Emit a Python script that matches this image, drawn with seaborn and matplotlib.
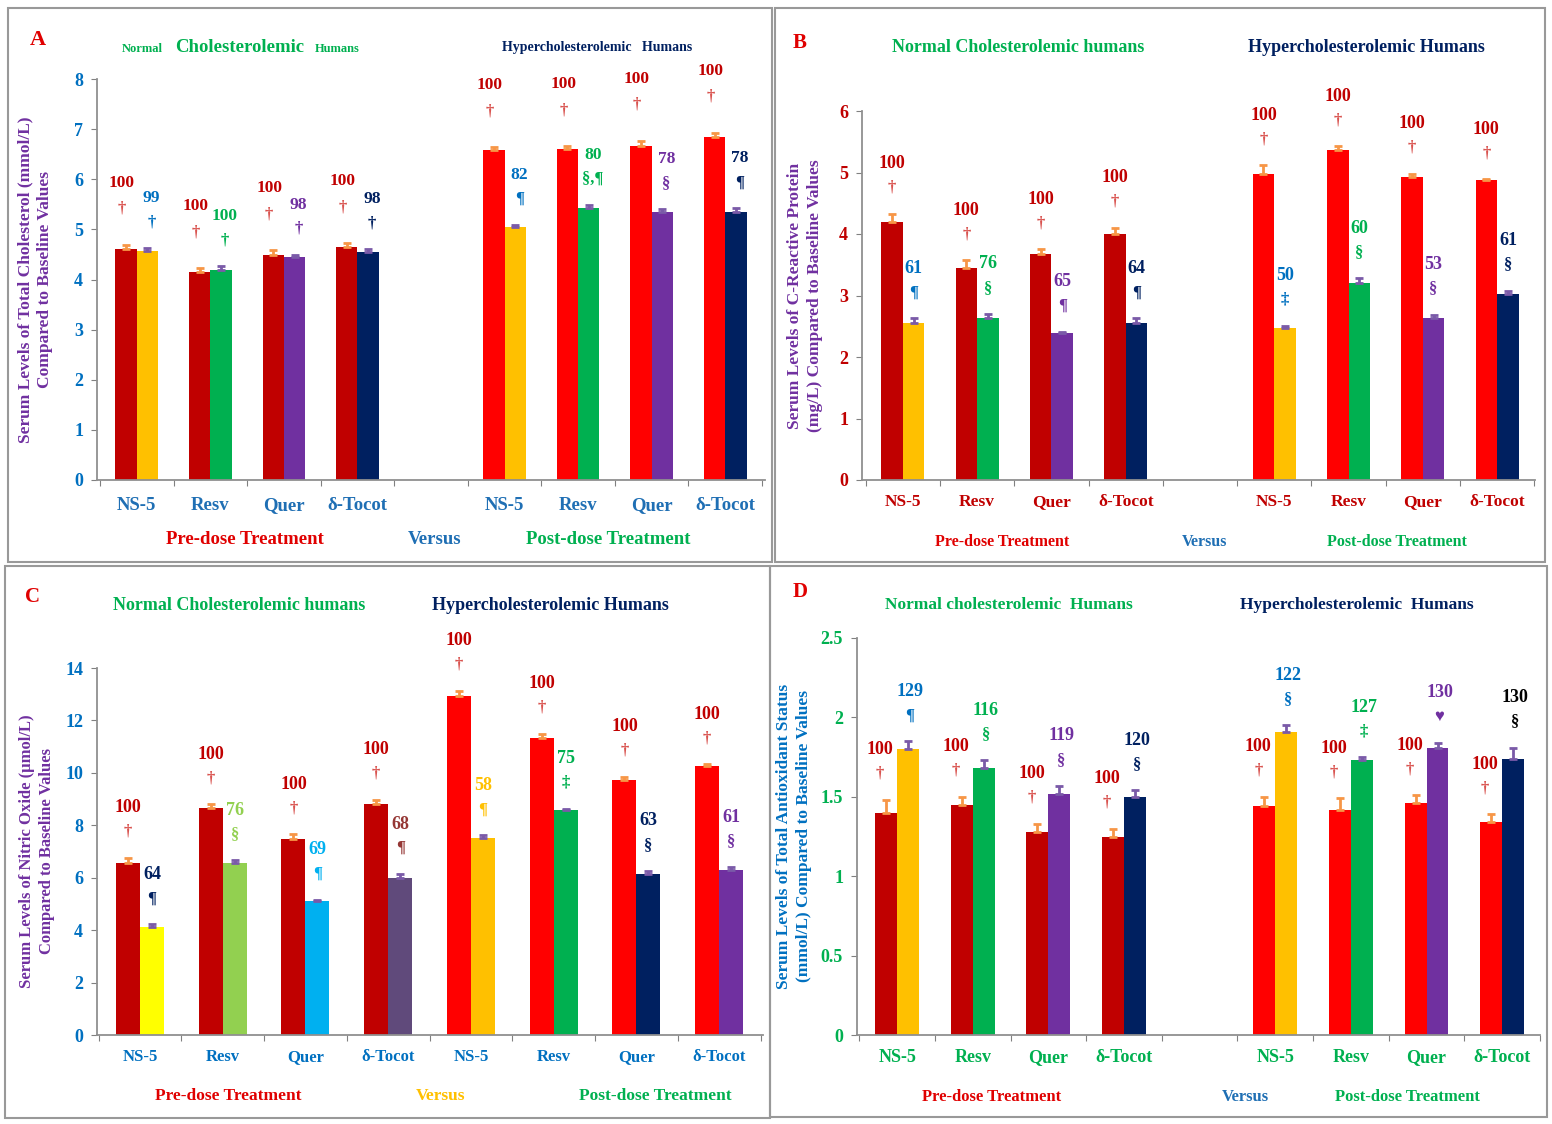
import numpy as np
import pandas as pd
import matplotlib.pyplot as plt
from matplotlib.patches import Rectangle
import seaborn as sns

W, H = 1552, 1124

drugs = ['NS-5', 'Resv', 'Quer', 'δ-Tocot']

# ---- panel A : total cholesterol (mmol/L)
a_base = [4.61, 4.15, 4.49, 4.65, 6.59, 6.60, 6.67, 6.85]
a_trt = [4.57, 4.19, 4.45, 4.55, 5.05, 5.43, 5.35, 5.35]
a_err_base = [0.08, 0.07, 0.09, 0.07, 0.05, 0.06, 0.10, 0.08]
a_err_trt = [0.05, 0.07, 0.04, 0.05, 0.04, 0.06, 0.05, 0.07]
a_pct = ['99', '100', '98', '98', '82', '80', '78', '78']
a_sym = ['†', '†', '†', '†', '¶', '§,¶', '§', '¶']

# ---- panel B : C-reactive protein (mg/L)
b_base = [4.20, 3.44, 3.67, 4.00, 4.97, 5.37, 4.93, 4.87]
b_trt = [2.55, 2.63, 2.39, 2.56, 2.47, 3.20, 2.63, 3.02]
b_err_base = [0.13, 0.13, 0.08, 0.10, 0.15, 0.06, 0.05, 0.02]
b_err_trt = [0.08, 0.07, 0.02, 0.07, 0.04, 0.08, 0.06, 0.06]
b_pct = ['61', '76', '65', '64', '50', '60', '53', '61']
b_sym = ['¶', '§', '¶', '¶', '‡', '§', '§', '§']

# ---- panel C : nitric oxide (umol/L)
c_base = [6.56, 8.66, 7.46, 8.82, 12.94, 11.34, 9.73, 10.27]
c_trt = [4.12, 6.56, 5.11, 5.99, 7.50, 8.59, 6.16, 6.30]
c_err_base = [0.20, 0.15, 0.20, 0.15, 0.20, 0.15, 0.12, 0.05]
c_err_trt = [0.10, 0.10, 0.05, 0.15, 0.12, 0.05, 0.10, 0.10]
c_pct = ['64', '76', '69', '68', '58', '75', '63', '61']
c_sym = ['¶', '§', '¶', '¶', '¶', '‡', '§', '§']

# ---- panel D : total antioxidant status (mmol/L)
d_base = [1.40, 1.45, 1.28, 1.25, 1.44, 1.42, 1.46, 1.34]
d_trt = [1.80, 1.68, 1.52, 1.50, 1.91, 1.73, 1.81, 1.74]
d_err_base = [0.08, 0.05, 0.05, 0.05, 0.06, 0.07, 0.05, 0.05]
d_err_trt = [0.05, 0.05, 0.05, 0.04, 0.04, 0.02, 0.03, 0.07]
d_pct = ['129', '116', '119', '120', '122', '127', '130', '130']
d_sym = ['¶', '§', '§', '§', '§', '‡', '♥', '§']

pos_gap = [0, 1, 2, 3, 5, 6, 7, 8]
pos_nogap = [0, 1, 2, 3, 4, 5, 6, 7]

DRED, RED = '#c00000', '#ff0000'
GOLD, GREEN, PURPLE, NAVY = '#ffc000', '#00b050', '#7030a0', '#002060'
BLUE = '#0070c0'
std_trt = [GOLD, GREEN, PURPLE, NAVY] * 2
std_base = [DRED] * 4 + [RED] * 4
c_trt_col = ['#ffff00', '#92d050', '#00b0f0', '#604a7b', GOLD, GREEN, NAVY, PURPLE]

sns.set_style('white')
plt.rcParams['font.family'] = ['Liberation Serif', 'DejaVu Sans']
plt.rcParams['font.weight'] = 'bold'
plt.rcParams['axes.labelweight'] = 'bold'


def px(x, y):
    return x / W, 1 - y / H


def rect(left, right, top, bottom):
    return [left / W, 1 - bottom / H, (right - left) / W, (bottom - top) / H]


def draw_panel(fig, r, pos, base, trt, eb, et, trt_cols, pct, pct_cols, sym,
               ylim, yticks, yticklabels, tick_col, cat_col, ylabel, ylab_col,
               ylab_x, xlim, ylab_size=12.5, cat_size=13, cat_pad=10,
               base_off=(0, 26, 50), trt_off=(0, 26, 50), num_size=13):
    ax = fig.add_axes(r)
    n = len(pos)
    df = pd.DataFrame({'pos': pos * 2,
                       'grp': ['base'] * n + ['trt'] * n,
                       'val': base + trt})
    sns.barplot(data=df, x='pos', y='val', hue='grp', native_scale=True,
                width=0.58, dodge=True, errorbar=None, legend=False,
                saturation=1, linewidth=0, ax=ax)
    bars = sorted(ax.patches, key=lambda b: b.get_x())
    for i in range(n):
        bb, bt = bars[2 * i], bars[2 * i + 1]
        bb.set_facecolor(std_base[i])
        bt.set_facecolor(trt_cols[i])
        for b, e, ec in ((bb, eb[i], '#f79646'), (bt, et[i], '#7a5aa8')):
            xc = b.get_x() + b.get_width() / 2
            ax.errorbar(xc, b.get_height(), yerr=[[0], [e]], fmt='none',
                        ecolor=ec, elinewidth=2, capsize=3, capthick=2)
        xb = bb.get_x() + bb.get_width() / 2
        tb = bb.get_height() + eb[i]
        ax.annotate('100', (xb, tb), xytext=(base_off[0], base_off[2]),
                    textcoords='offset pixels', ha='center', va='center',
                    color=DRED, fontsize=num_size)
        ax.annotate('†', (xb, tb), xytext=(base_off[0], base_off[1]),
                    textcoords='offset pixels', ha='center', va='center',
                    color='#d9534f', fontsize=12)
        xt = bt.get_x() + bt.get_width() / 2
        tt = bt.get_height() + et[i]
        ax.annotate(pct[i], (xt, tt), xytext=(trt_off[0], trt_off[2]),
                    textcoords='offset pixels', ha='center', va='center',
                    color=pct_cols[i], fontsize=num_size)
        ax.annotate(sym[i], (xt, tt), xytext=(trt_off[0], trt_off[1]),
                    textcoords='offset pixels', ha='center', va='center',
                    color=pct_cols[i], fontsize=12)

    ax.set_xlim(*xlim)
    ax.set_ylim(*ylim)
    ax.set_yticks(yticks)
    ax.set_yticklabels(yticklabels, color=tick_col, fontsize=13)
    ax.set_xticks(np.arange(-0.5, max(pos) + 1, 1))
    ax.set_xticklabels([])
    ax.set_xticks(pos, minor=True)
    ax.set_xticklabels(drugs * 2, minor=True, color=cat_col, fontsize=cat_size)
    ax.tick_params(axis='x', which='major', length=4, direction='out',
                   color='#808080', bottom=True)
    ax.tick_params(axis='x', which='minor', length=0, pad=cat_pad)
    ax.tick_params(axis='y', length=4, direction='out', color='#808080',
                   left=True, pad=6)
    ax.set_xlabel('')
    ax.set_ylabel(ylabel, color=ylab_col, fontsize=ylab_size,
                  fontweight='bold', linespacing=1.3)
    ax.yaxis.set_label_coords(ylab_x, 0.5)
    sns.despine(ax=ax)
    for s in ('left', 'bottom'):
        ax.spines[s].set_color('#909090')
        ax.spines[s].set_linewidth(1.3)
    ax.set_facecolor('none')
    return ax


fig = plt.figure(figsize=(W / 100, H / 100), dpi=100)

# panel frames
for (x0, y0, x1, y1) in [(8, 8, 772, 562), (775, 8, 1545, 562),
                         (5, 566, 770, 1118), (770, 566, 1547, 1117)]:
    fig.patches.append(Rectangle(px(x0, y1), (x1 - x0) / W, (y1 - y0) / H,
                                 transform=fig.transFigure, fill=False,
                                 edgecolor='#999999', linewidth=1.5))

# A
draw_panel(fig, rect(97, 765, 79, 480), pos_gap, a_base, a_trt, a_err_base,
           a_err_trt, std_trt, a_pct, [BLUE, GREEN, PURPLE, NAVY] * 2, a_sym,
           (0, 8), range(0, 9), [str(v) for v in range(0, 9)], BLUE, '#1f6fb4',
           'Serum Levels of Total Cholesterol (mmol/L)\nCompared to Baseline Values',
           PURPLE, -0.066, (-0.54, 8.54), ylab_size=12.5, cat_size=13.5, cat_pad=12,
           base_off=(-4, 36, 62), trt_off=(4, 26, 50), num_size=12.5)
# B
draw_panel(fig, rect(862, 1535, 111, 480), pos_gap, b_base, b_trt, b_err_base,
           b_err_trt, std_trt, b_pct, [BLUE, GREEN, PURPLE, NAVY] * 2, b_sym,
           (0, 6), range(0, 7), [str(v) for v in range(0, 7)], DRED, DRED,
           'Serum Levels of C-Reactive Protein\n(mg/L) Compared to Baseline Values',
           PURPLE, -0.058, (-0.55, 8.51), ylab_size=12.5, cat_size=12.5)
# C
draw_panel(fig, rect(97, 763, 668, 1035), pos_nogap, c_base, c_trt, c_err_base,
           c_err_trt, c_trt_col, c_pct,
           [NAVY, '#92d050', '#00b0f0', '#953735', GOLD, GREEN, NAVY, PURPLE],
           c_sym, (0, 14), range(0, 15, 2), [str(v) for v in range(0, 15, 2)],
           BLUE, BLUE,
           'Serum Levels of Nitric Oxide (µmol/L)\nCompared to Baseline Values',
           PURPLE, -0.063, (-0.52, 7.53), ylab_size=12, cat_size=12)
# D
draw_panel(fig, rect(857, 1540, 638, 1035), pos_gap, d_base, d_trt, d_err_base,
           d_err_trt, std_trt, d_pct, [BLUE, GREEN, PURPLE, NAVY, BLUE, GREEN, PURPLE, '#000000'],
           d_sym, (0, 2.5), [0, 0.5, 1, 1.5, 2, 2.5], ['0', '0.5', '1', '1.5', '2', '2.5'],
           GREEN, GREEN,
           'Serum Levels of Total Antioxidant Status\n(mmol/L) Compared to Baseline Values',
           BLUE, -0.066, (-0.53, 8.47), ylab_size=12.5, cat_size=13,
           base_off=(-6, 26, 50), trt_off=(2, 26, 50))


def ftext(x, y, s, color, size, ha='center'):
    fig.text(*px(x, y), s, color=color, fontsize=size, ha=ha, va='center')


# panel letters
ftext(38, 40, 'A', '#e00000', 16)
ftext(800, 43, 'B', '#e00000', 15)
ftext(33, 597, 'C', '#e00000', 15)
ftext(800, 592, 'D', '#e00000', 15)

# titles
ftext(163, 49, 'Normal', GREEN, 9, ha='right')
ftext(240, 47, 'Cholesterolemic', GREEN, 13.5)
ftext(315, 49, 'Humans', GREEN, 9, ha='left')
ftext(597, 48, 'Hypercholesterolemic   Humans', NAVY, 10)
ftext(1018, 47, 'Normal Cholesterolemic humans', GREEN, 13)
ftext(1366, 47, 'Hypercholesterolemic Humans', NAVY, 13)
ftext(239, 605, 'Normal Cholesterolemic humans', GREEN, 13)
ftext(550, 605, 'Hypercholesterolemic Humans', NAVY, 13)
ftext(1009, 605, 'Normal cholesterolemic  Humans', GREEN, 12.5)
ftext(1357, 605, 'Hypercholesterolemic  Humans', NAVY, 12.5)

# bottom group labels
ftext(245, 540, 'Pre-dose Treatment', '#e00000', 13.5)
ftext(435, 540, 'Versus', '#1f6fb4', 13.5)
ftext(608, 540, 'Post-dose Treatment', '#00b050', 13.5)
ftext(1002, 542, 'Pre-dose Treatment', '#e00000', 11.5)
ftext(1205, 542, 'Versus', '#1f6fb4', 11.5)
ftext(1397, 542, 'Post-dose Treatment', '#00b050', 11.5)
ftext(228, 1096, 'Pre-dose Treatment', '#e00000', 12.5)
ftext(441, 1096, 'Versus', GOLD, 12.5)
ftext(655, 1096, 'Post-dose Treatment', '#00b050', 12.5)
ftext(992, 1097, 'Pre-dose Treatment', '#e00000', 12)
ftext(1245, 1097, 'Versus', '#1f6fb4', 12)
ftext(1407, 1097, 'Post-dose Treatment', '#00b050', 12)

fig.savefig('out.png', dpi=100, facecolor='white')
